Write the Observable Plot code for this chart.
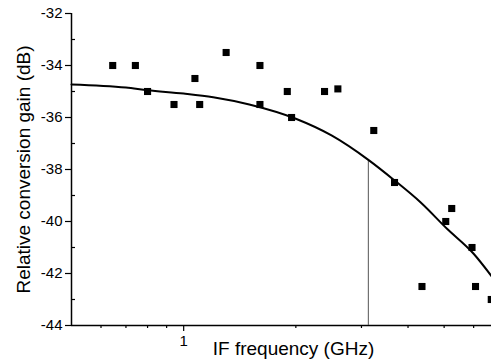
<!DOCTYPE html>
<html>
<head>
<meta charset="utf-8">
<script src="https://cdn.jsdelivr.net/npm/d3@7"></script>
<script src="https://cdn.jsdelivr.net/npm/@observablehq/plot@0.6"></script>
<style>
  html, body { margin: 0; padding: 0; background: #fff; }
  #chart { width: 491px; height: 363px; }
</style>
</head>
<body>
<div id="chart"></div>
<script>
// Measured data points (IF frequency in GHz, relative conversion gain in dB)
const freqGHz = [0.645, 0.742, 0.80, 0.942, 1.072, 1.104, 1.30, 1.602, 1.602, 1.897, 1.948, 2.388, 2.593, 3.237, 3.68, 4.36, 5.05, 5.24, 5.94, 6.07, 6.69];
const gainDB  = [-34.0, -34.0, -35.0, -35.5, -34.5, -35.5, -33.5, -34.0, -35.5, -35.0, -36.0, -35.0, -34.9, -36.5, -38.5, -42.5, -40.0, -39.5, -41.0, -42.5, -43.0];

// Fitted curve
const fitX = [0.5, 0.7, 0.8, 1.0, 1.2, 1.5, 2.0, 2.5, 3.13, 3.68, 4.32, 5.09, 6.0, 6.7];
const fitY = [-34.73, -34.85, -34.95, -35.08, -35.22, -35.5, -36.05, -36.7, -37.63, -38.42, -39.26, -40.28, -41.24, -42.1];

// 3 dB cutoff marker
const cutoffX = [3.13];
const cutoffY = [-37.63];

// Axis ticks
const yTicks = [-44, -42, -40, -38, -36, -34, -32];
const yMinor = [-43, -41, -39, -37, -35, -33];
const xTicks = [1];
const xMinor = [0.6, 0.7, 0.8, 0.9, 2, 3, 4, 5, 6];

const xLabel = "IF frequency (GHz)";
const yLabel = "Relative conversion gain (dB)";

const points = freqGHz.map((f, i) => ({f, g: gainDB[i]}));
const fit = fitX.map((f, i) => ({f, g: fitY[i]}));
const cutoff = cutoffX.map((f, i) => ({f, g: cutoffY[i]}));

const chart = Plot.plot({
  width: 491,
  height: 363,
  marginLeft: 71,
  marginRight: 0,
  marginTop: 13,
  marginBottom: 38,
  style: {fontFamily: "'Liberation Sans', Arial, sans-serif", background: "#fff", color: "#000"},
  x: {type: "log", domain: [0.5, 6.7]},
  y: {domain: [-44, -32]},
  marks: [
    Plot.axisY({ticks: yTicks, tickSize: 6, tickPadding: 3, tickFormat: d => `${d}`, label: null, fontSize: 15, stroke: "#000", strokeWidth: 1.2}),
    Plot.axisY({ticks: yMinor, tickSize: -4, tickFormat: () => "", label: null, stroke: "#000", strokeWidth: 1.2}),
    Plot.axisX({ticks: xTicks, tickSize: 6, tickPadding: 4, tickFormat: d => `${d}`, label: null, fontSize: 15, stroke: "#000", strokeWidth: 1.2}),
    Plot.axisX({ticks: xMinor, tickSize: 3, tickFormat: () => "", label: null, stroke: "#000", strokeWidth: 1.2}),
    Plot.ruleX([0.5], {stroke: "#000", strokeWidth: 1.5}),
    Plot.ruleY([-44], {stroke: "#000", strokeWidth: 1.5}),
    Plot.ruleX(cutoff, {x: "f", y1: -44, y2: "g", stroke: "#555", strokeWidth: 1}),
    Plot.line(fit, {x: "f", y: "g", curve: "monotone-x", stroke: "#000", strokeWidth: 2}),
    Plot.dot(points, {x: "f", y: "g", symbol: "square", r: 4, fill: "#000", stroke: "none"}),
    Plot.text([xLabel], {frameAnchor: "bottom", dx: 12, dy: 23, text: d => d, fontSize: 19, textAnchor: "middle", lineAnchor: "middle", fill: "#000"}),
    Plot.text([yLabel], {frameAnchor: "left", dx: -48, dy: 0, rotate: -90, text: d => d, fontSize: 19, textAnchor: "middle", lineAnchor: "middle", fill: "#000"})
  ]
});
document.getElementById("chart").appendChild(chart);
</script>
</body>
</html>
